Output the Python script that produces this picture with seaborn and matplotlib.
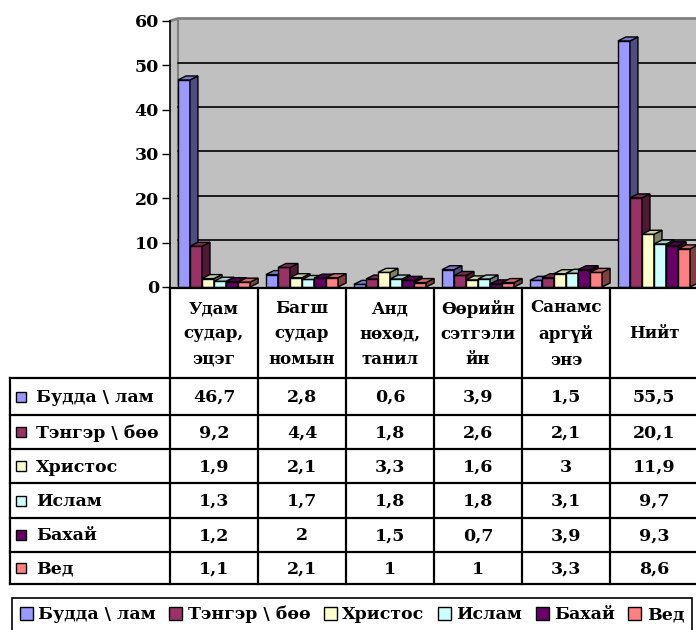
import numpy as np
import pandas as pd
import matplotlib
matplotlib.use("Agg")
import matplotlib.pyplot as plt
import seaborn as sns
from matplotlib.patches import Polygon, Rectangle, Patch
from matplotlib.transforms import ScaledTranslation
from matplotlib.colors import to_rgb

categories = ["Удам\nсудар,\nэцэг", "Багш\nсудар\nномын", "Анд\nнөхөд,\nтанил",
              "Өөрийн\nсэтгэли\nйн", "Санамс\nаргүй\nэнэ", "Нийт"]
religions = ["Будда \\ лам", "Тэнгэр \\ бөө", "Христос", "Ислам", "Бахай", "Вед"]
buddha = [46.7, 2.8, 0.6, 3.9, 1.5, 55.5]
tenger = [9.2, 4.4, 1.8, 2.6, 2.1, 20.1]
christ = [1.9, 2.1, 3.3, 1.6, 3, 11.9]
islam = [1.3, 1.7, 1.8, 1.8, 3.1, 9.7]
bahai = [1.2, 2, 1.5, 0.7, 3.9, 9.3]
ved = [1.1, 2.1, 1, 1, 3.3, 8.6]
colors = ["#9999FF", "#993366", "#FFFFCC", "#CCFFFF", "#660066", "#FF8080"]
yticks = [0, 10, 20, 30, 40, 50, 60]

series = [buddha, tenger, christ, islam, bahai, ved]
rows = []
for rel, vals in zip(religions, series):
    for cat, v in zip(categories, vals):
        rows.append({"cat": cat, "rel": rel, "val": v})
df = pd.DataFrame(rows)

sns.set_style("white")
plt.rcParams["font.family"] = ["DejaVu Serif", "Liberation Serif"]
plt.rcParams["font.weight"] = "bold"
plt.rcParams["text.color"] = "black"
plt.rcParams["ytick.color"] = "black"
plt.rcParams["ytick.labelcolor"] = "black"

W, H = 696, 630
fig = plt.figure(figsize=(W / 100, H / 100), dpi=100)
L, R, B, T = 170, 698, 287, 21

# back wall
bg = fig.add_axes([0, 0, 1, 1], zorder=0)
bg.set_xlim(0, W)
bg.set_ylim(H, 0)
bg.axis("off")
bg.add_patch(Polygon([(L, B), (L, T), (L + 8, T - 2.5), (W + 5, T - 2.5), (W + 5, B)],
                     closed=True, facecolor="#C0C0C0", edgecolor="none"))
bg.plot([L, L + 8, W + 5], [T, T - 2.5, T - 2.5], color="#808080", lw=2)
bg.plot([L + 8, L + 8], [T - 2.5, B - 2.5], color="#808080", lw=1.5)

ax = fig.add_axes([L / W, 1 - B / H, (R - L) / W, (B - T) / H], zorder=1)
ax.set_facecolor("none")
sns.barplot(data=df, x="cat", y="val", hue="rel", order=categories, hue_order=religions,
            palette=colors, saturation=1, width=0.82, edgecolor="black", linewidth=1,
            legend=False, ax=ax)
ax.set_xlim(-0.5, 5.5)
ax.set_ylim(0, 60)

# gridlines on the back wall
wall = ax.transData + ScaledTranslation(8 / 100, 2.5 / 100, fig.dpi_scale_trans)
for t in yticks[1:-1]:
    ax.plot([-0.5, 5.6], [t, t], color="black", lw=1.2, transform=wall, zorder=1, clip_on=False)

# 3d faces
dx = 8 * 6 / (R - L)
dy = 4 * 60 / (B - T)
bars = sorted(ax.patches, key=lambda p: p.get_x())
for i, p in enumerate(bars):
    x0, w, h = p.get_x(), p.get_width(), p.get_height()
    c = np.array(to_rgb(p.get_facecolor()))
    z = 3 + i * 0.01
    p.set_zorder(z)
    side = Polygon([(x0 + w, 0), (x0 + w + dx, dy), (x0 + w + dx, h + dy), (x0 + w, h)],
                   closed=True, facecolor=c * 0.5, edgecolor="black", lw=1, zorder=z + 0.002,
                   clip_on=False)
    top = Polygon([(x0, h), (x0 + dx, h + dy), (x0 + w + dx, h + dy), (x0 + w, h)],
                  closed=True, facecolor=c * 0.8, edgecolor="black", lw=1, zorder=z + 0.002,
                  clip_on=False)
    ax.add_patch(side)
    ax.add_patch(top)
    p.set_clip_on(False)

ax.set_xticks([])
ax.set_xlabel("")
ax.set_ylabel("")
ax.set_yticks(yticks)
ax.tick_params(axis="y", left=True, length=6, width=1, color="black", labelcolor="black",
               pad=2, labelsize=12.5)
for s in ["top", "right", "bottom"]:
    ax.spines[s].set_visible(False)
ax.spines["left"].set_color("black")
ax.spines["left"].set_linewidth(1.2)

# data table
tx = fig.add_axes([0, 0, 1, 1], zorder=5)
tx.set_facecolor("none")
tx.set_xlim(0, W)
tx.set_ylim(H, 0)
tx.axis("off")
cw = (R - L) / 6
cols = [L + i * cw for i in range(7)]
row_lines = [378, 415, 449, 483, 518, 552, 584]
lk = dict(color="black", lw=1.6, solid_capstyle="projecting")
tx.plot([L, R], [B + 1, B + 1], **lk)
for y in row_lines:
    tx.plot([10, R], [y, y], **lk)
tx.plot([10, 10], [row_lines[0], row_lines[-1]], **lk)
for x in cols[:-1]:
    tx.plot([x, x], [B + 1, row_lines[-1]], **lk)

for j, cat in enumerate(categories):
    tx.text(cols[j] + cw / 2, 334, cat, ha="center", va="center", fontsize=12,
            fontweight="bold", linespacing=1.65, color="black")

for i, (rel, vals) in enumerate(zip(religions, series)):
    yc = (row_lines[i] + row_lines[i + 1]) / 2
    tx.add_patch(Rectangle((16, yc - 5), 10, 10, facecolor=colors[i], edgecolor="black", lw=1))
    tx.text(36, yc + 1, rel, ha="left", va="center", fontsize=12.5, fontweight="bold",
            color="black")
    for j, v in enumerate(vals):
        tx.text(cols[j] + cw / 2, yc + 1, f"{v:g}".replace(".", ","), ha="center",
                va="center", fontsize=12.5, fontweight="bold", color="black")

handles = [Patch(facecolor=c, edgecolor="black", lw=1) for c in colors]
leg = fig.legend(handles, religions, ncol=6, loc="upper left",
                 bbox_to_anchor=(12 / W, 1 - 598 / H, 680 / W, 0), mode="expand",
                 frameon=True, fancybox=False, edgecolor="black", framealpha=1,
                 handlelength=0.75, handleheight=0.75, handletextpad=0.3,
                 columnspacing=0.3, borderpad=0.45, borderaxespad=0,
                 prop={"size": 12.5, "weight": "bold"})
leg.get_frame().set_linewidth(1.2)
for t in leg.get_texts():
    t.set_color("black")

fig.savefig("out.png", dpi=100)
